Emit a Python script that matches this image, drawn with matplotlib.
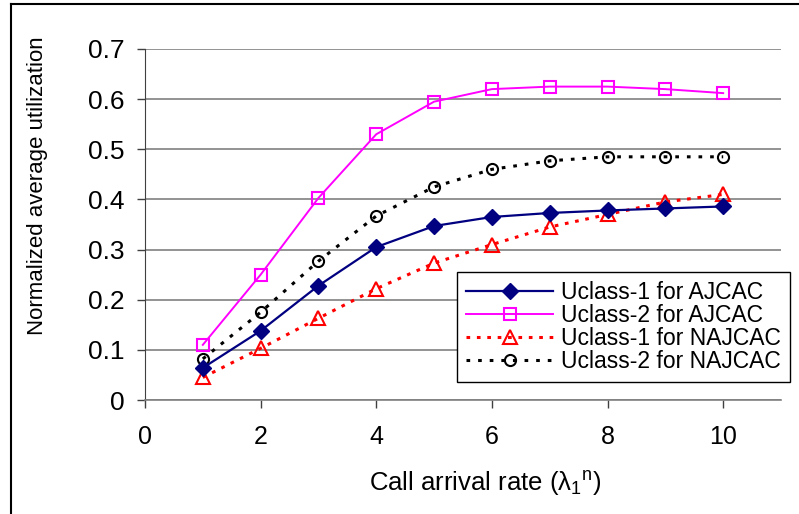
import numpy as np
import matplotlib
matplotlib.use("Agg")
import matplotlib.pyplot as plt
from matplotlib.lines import Line2D

plt.rcParams['font.family'] = ['Liberation Sans', 'DejaVu Sans']
plt.rcParams['mathtext.fontset'] = 'custom'
plt.rcParams['mathtext.rm'] = 'Liberation Sans'
plt.rcParams['mathtext.it'] = 'Liberation Sans'
plt.rcParams['mathtext.default'] = 'regular'

# data
arrival_rate = [1, 2, 3, 4, 5, 6, 7, 8, 9, 10]
u1_ajcac = [0.064, 0.138, 0.228, 0.305, 0.347, 0.365, 0.373, 0.378, 0.382, 0.386]
u2_ajcac = [0.110, 0.250, 0.403, 0.530, 0.595, 0.620, 0.625, 0.625, 0.620, 0.612]
u1_najcac = [0.045, 0.103, 0.163, 0.222, 0.273, 0.310, 0.345, 0.370, 0.395, 0.410]
u2_najcac = [0.082, 0.175, 0.277, 0.367, 0.425, 0.460, 0.477, 0.485, 0.485, 0.485]
x_ticks = [0, 2, 4, 6, 8, 10]
y_ticks = [0, 0.1, 0.2, 0.3, 0.4, 0.5, 0.6, 0.7]

W, H = 799, 514
fig = plt.figure(figsize=(W / 100, H / 100), dpi=100)
ax = fig.add_axes([145 / W, 1 - 400 / H, (781 - 145) / W, (400 - 49) / H])

ax.plot(arrival_rate, u1_ajcac, '-', color='#000080', lw=1.6, marker='D',
        markersize=8, markerfacecolor='#000080', label='Uclass-1 for AJCAC', zorder=4)
ax.plot(arrival_rate, u2_ajcac, '-', color='#FF00FF', lw=1.4, marker='s',
        markersize=9, markerfacecolor='none', markeredgewidth=1.5,
        label='Uclass-2 for AJCAC', zorder=3)
ax.plot(arrival_rate, u1_najcac, color='#FF0000', lw=2.2, linestyle=(0, (1.2, 2.2)),
        marker='^', markersize=10, markerfacecolor='none', markeredgewidth=1.5,
        label='Uclass-1 for NAJCAC', zorder=3)
ax.plot(arrival_rate, u2_najcac, color='black', lw=2.2, linestyle=(0, (1.2, 2.6)),
        marker='o', markersize=8, markerfacecolor='none', markeredgewidth=1.5,
        label='Uclass-2 for NAJCAC', zorder=3)

ax.set_xlim(0, 11)
ax.set_ylim(0, 0.7)
ax.set_xticks(x_ticks)
ax.set_yticks(y_ticks)
ax.set_yticklabels(['0' if v == 0 else f'{v:.1f}' for v in y_ticks])
ax.tick_params(axis='both', direction='out', length=6, width=1, color='#404040')
ax.tick_params(axis='x', pad=12, labelsize=18)
ax.tick_params(axis='y', pad=9, labelsize=19)

ax.grid(axis='y', color='#808080', lw=1.2)
ax.set_axisbelow(True)
for s in ['top', 'right']:
    ax.spines[s].set_visible(False)
ax.spines['left'].set_color('#404040')
ax.spines['bottom'].set_color('#808080')
ax.spines['bottom'].set_linewidth(1.2)

fig.text(485 / W, 1 - 484 / H, r'Call arrival rate (λ$_1$$^n$)', fontsize=18.5,
         ha='center', va='center')
fig.text(38 / W, 1 - 186 / H, 'Normalized average utilization', fontsize=16,
         rotation=90, ha='center', va='center')

leg = ax.legend(loc='upper left', bbox_to_anchor=(457 / W, 1 - 272 / H),
                bbox_transform=fig.transFigure, borderaxespad=0, fontsize=16.5,
                handlelength=3.8, handletextpad=0.35, labelspacing=0.0,
                borderpad=0.4, fancybox=False, framealpha=1, edgecolor='black')
leg.get_frame().set_linewidth(1)

# outer frame of the original picture
fig.add_artist(Line2D([11 / W, 1], [1 - 4 / H, 1 - 4 / H], color='black', lw=1.5))
fig.add_artist(Line2D([11 / W, 11 / W], [0, 1 - 4 / H], color='black', lw=1.5))

fig.savefig('out.png', dpi=100)
